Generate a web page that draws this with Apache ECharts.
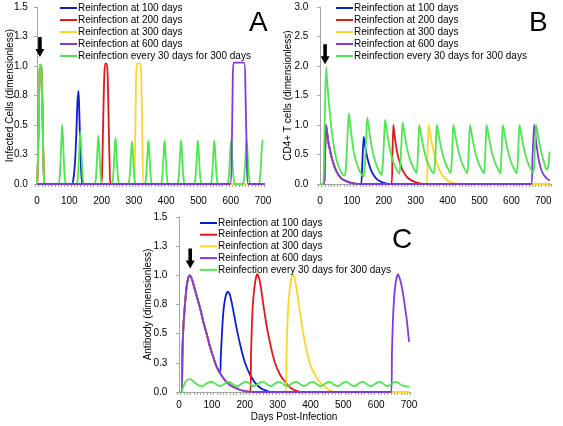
<!DOCTYPE html>
<html><head><meta charset="utf-8">
<script src="https://cdn.jsdelivr.net/npm/echarts@6/dist/echarts.min.js"></script>
<style>html,body{margin:0;padding:0;background:#fff}#c{width:563px;height:426px}</style>
</head><body><div id="c"></div>
<script>
// ---- names / colours ----
const seriesNames = ['Reinfection at 100 days','Reinfection at 200 days','Reinfection at 300 days','Reinfection at 600 days','Reinfection every 30 days for 300 days'];
const xLabelValues = [0,100,200,300,400,500,600,700];
const panelLetters = ['A','B','C'];
const yTitles = ['Infected Cells (dimensionless)','CD4+ T cells (dimensionless)','Antibody (dimensionless)'];
const xTitleC = 'Days Post-Infection';

// ---- Panel A: infected cells ----
const aBlue = [[0,0],[2,0.1],[5,0.55],[8,0.95],[10,1.01],[13,1.0],[16,0.75],[19,0.3],[22,0.02],[24,0],[108,0],[113,0.05],[118,0.2],[122,0.45],[125,0.68],[128,0.79],[130,0.7],[133,0.4],[136,0.15],[139,0.03],[142,0],[705,0]];
const aRed = [[0,0],[2,0.1],[5,0.55],[8,0.95],[10,1.01],[13,1.0],[16,0.75],[19,0.3],[22,0.02],[24,0],[198,0],[202,0.15],[205,0.55],[208,0.9],[211,1.02],[216,1.02],[219,0.9],[222,0.5],[225,0.15],[228,0],[705,0]];
const aYellow = [[0,0],[2,0.1],[5,0.55],[8,0.95],[10,1.01],[13,1.0],[16,0.75],[19,0.3],[22,0.02],[24,0],[300,0],[303,0.2],[306,0.75],[309,1.02],[320,1.02],[324,0.75],[327,0.25],[331,0],[705,0]];
const aPurple = [[0,0],[598,0],[603,0.3],[606,0.85],[609,1.028],[641,1.028],[645,0.85],[649,0.3],[654,0],[705,0]];
const aGreen = [[0,0],[2,0.1],[5,0.55],[8,0.95],[10,1.01],[13,1.0],[16,0.75],[19,0.3],[22,0.02],[24,0],
 [66,0],[70,0.05],[73,0.2],[76,0.42],[78,0.5],[80,0.42],[83,0.2],[86,0.05],[90,0],
 [122,0],[126,0.04],[129,0.18],[132,0.37],[134,0.44],[136,0.37],[139,0.18],[142,0.04],[146,0],
 [178,0],[182,0.04],[185,0.17],[188,0.34],[190,0.41],[192,0.34],[195,0.17],[198,0.04],[202,0],
 [231,0],[235,0.04],[238,0.16],[241,0.33],[243,0.39],[245,0.33],[248,0.16],[251,0.04],[255,0],
 [282,0],[286,0.04],[289,0.15],[292,0.3],[294,0.36],[296,0.3],[299,0.15],[302,0.04],[306,0],
 [333,0],[337,0.04],[340,0.15],[343,0.31],[345,0.37],[347,0.31],[350,0.15],[353,0.04],[357,0],
 [383,0],[387,0.04],[390,0.15],[393,0.31],[395,0.37],[397,0.31],[400,0.15],[403,0.04],[407,0],
 [434,0],[438,0.04],[441,0.15],[444,0.31],[446,0.37],[448,0.31],[451,0.15],[454,0.04],[458,0],
 [486,0],[490,0.04],[493,0.15],[496,0.31],[498,0.37],[500,0.31],[503,0.15],[506,0.04],[510,0],
 [537,0],[541,0.04],[544,0.15],[547,0.31],[549,0.37],[551,0.31],[554,0.15],[557,0.04],[561,0],
 [589,0],[593,0.04],[596,0.15],[599,0.31],[601,0.37],[603,0.31],[606,0.15],[609,0.04],[613,0],
 [637,0],[641,0.04],[644,0.15],[647,0.31],[649,0.37],[651,0.31],[654,0.15],[657,0.04],[661,0],
 [686,0],[690,0.04],[693,0.15],[696,0.31],[698,0.37],[700,0.36]];

// ---- Panel B: CD4+ T cells ----
const bBlue = [[0,0],[13,0],[16,0.55],[19,1.0],[22,0.88],[26,0.72],[31,0.58],[36,0.46],[42,0.35],[47,0.27],[52,0.21],[57,0.16],[63,0.12],[70,0.08],[78,0.06],[90,0.03],[105,0.01],[120,0],
 [129,0],[133,0.4],[137,0.8],[140,0.7],[144,0.56],[148,0.45],[152,0.37],[157,0.28],[162,0.21],[167,0.16],[175,0.1],[188,0.045],[200,0.02],[215,0],[720,0]];
const bRed = [[0,0],[13,0],[16,0.55],[19,1.0],[22,0.88],[26,0.72],[31,0.58],[36,0.46],[42,0.35],[47,0.27],[52,0.21],[57,0.16],[63,0.12],[70,0.08],[78,0.06],[90,0.03],[105,0.01],[120,0],
 [224,0],[227,0.5],[230,1.0],[233,0.86],[237,0.7],[241,0.56],[246,0.44],[251,0.35],[256,0.27],[261,0.21],[267,0.16],[274,0.11],[284,0.07],[295,0.04],[310,0.015],[325,0],[720,0]];
const bYellow = [[0,0],[13,0],[16,0.55],[19,1.0],[22,0.88],[26,0.72],[31,0.58],[36,0.46],[42,0.35],[47,0.27],[52,0.21],[57,0.16],[63,0.12],[70,0.08],[78,0.06],[90,0.03],[105,0.01],[120,0],
 [334,0],[337,0.5],[340,1.0],[343,0.93],[347,0.8],[351,0.68],[355,0.58],[360,0.47],[366,0.36],[371,0.28],[377,0.21],[385,0.14],[395,0.08],[405,0.04],[420,0.015],[440,0],[720,0]];
const bPurple = [[0,0],[13,0],[16,0.55],[19,1.0],[22,0.88],[26,0.72],[31,0.58],[36,0.46],[42,0.35],[47,0.27],[52,0.21],[57,0.16],[63,0.12],[70,0.08],[78,0.06],[90,0.03],[105,0.01],[120,0],
 [663,0],[666,0.45],[670,0.9],[672,1.0],[675,0.85],[679,0.65],[684,0.46],[689,0.33],[695,0.22],[702,0.15],[710,0.1],[716,0.075],[720,0.06]];
const bGreen = [[0,0],[10,0],[13,0.6],[16,1.4],[19,1.98],[22,1.78],[26,1.48],[31,1.2],[36,0.93],[42,0.69],[47,0.53],[52,0.41],[57,0.31],[63,0.24],[70,0.17],[77,0.14],[80,0.2],
 [84,0.55],[87,0.9],[90,1.2],[93,1.1],[97,0.9],[104,0.6],[110,0.44],[115,0.35],[120,0.27],[125,0.21],[131,0.16],[137,0.13],
 [141,0.35],[145,0.8],[148,1.13],[151,1.04],[155,0.88],[161,0.66],[167,0.5],[174,0.37],[181,0.27],[188,0.19],[193,0.15],
 [197,0.35],[201,0.78],[204,1.09],[207,1.0],[211,0.85],[217,0.65],[223,0.5],[230,0.37],[237,0.28],[244,0.21],[249,0.17],
 [252,0.35],[256,0.78],[259,1.04],[262,0.96],[266,0.82],[272,0.63],[278,0.49],[285,0.37],[292,0.28],[299,0.21],[303,0.18],
 [306,0.4],[309,0.8],[311,1.0],[314,0.93],[318,0.8],[324,0.63],[330,0.49],[337,0.37],[344,0.28],[351,0.21],[357,0.18],
 [361,0.4],[364,0.8],[366,1.0],[369,0.93],[373,0.8],[379,0.63],[385,0.49],[392,0.37],[399,0.28],[406,0.21],[410,0.18],
 [413,0.4],[416,0.8],[418,1.0],[421,0.93],[425,0.8],[431,0.63],[437,0.49],[444,0.37],[451,0.28],[458,0.21],[462,0.18],
 [465,0.4],[468,0.8],[470,1.0],[473,0.93],[477,0.8],[483,0.63],[489,0.49],[496,0.37],[503,0.28],[510,0.21],[514,0.18],
 [517,0.4],[520,0.8],[522,1.0],[525,0.93],[529,0.8],[535,0.63],[541,0.49],[548,0.37],[555,0.28],[562,0.21],[565,0.18],
 [568,0.4],[571,0.8],[573,1.0],[576,0.93],[580,0.8],[586,0.63],[592,0.49],[599,0.37],[606,0.28],[613,0.21],[617,0.18],
 [620,0.4],[623,0.8],[625,1.0],[628,0.93],[632,0.8],[638,0.63],[644,0.49],[651,0.37],[658,0.28],[665,0.21],[669,0.18],
 [672,0.4],[675,0.8],[677,1.0],[680,0.93],[684,0.8],[690,0.63],[696,0.49],[703,0.35],[708,0.26],[712,0.24],[716,0.33],[720,0.55]];

// ---- Panel C: antibody ----
const cBlue = [[0,0],[8,0],[10,0.3],[13,0.55],[18,0.75],[23,0.9],[28,0.98],[33,1.0],[40,0.96],[48,0.88],[56,0.8],[64,0.72],[74,0.6],[84,0.5],[94,0.39],[104,0.3],[114,0.22],[125,0.16],
 [127,0.3],[131,0.52],[135,0.69],[141,0.81],[148,0.86],[154,0.84],[160,0.77],[167,0.67],[177,0.52],[190,0.36],[202,0.24],[216,0.15],[231,0.08],[250,0.03],[280,0],[700,0]];
const cRed = [[0,0],[8,0],[10,0.3],[13,0.55],[18,0.75],[23,0.9],[28,0.98],[33,1.0],[40,0.96],[48,0.88],[56,0.8],[64,0.72],[74,0.6],[84,0.5],[94,0.39],[104,0.3],[114,0.22],[125,0.16],[140,0.1],[155,0.06],[175,0.03],[196,0.01],[217,0],
 [219,0.3],[222,0.6],[226,0.8],[232,0.95],[238,1.01],[244,0.97],[250,0.88],[257,0.74],[267,0.56],[280,0.38],[292,0.25],[307,0.15],[322,0.09],[342,0.03],[370,0],[700,0]];
const cYellow = [[0,0],[8,0],[10,0.3],[13,0.55],[18,0.75],[23,0.9],[28,0.98],[33,1.0],[40,0.96],[48,0.88],[56,0.8],[64,0.72],[74,0.6],[84,0.5],[94,0.39],[104,0.3],[114,0.22],[125,0.16],[140,0.1],[155,0.06],[175,0.03],[196,0.01],[230,0],
 [325,0],[327,0.3],[330,0.6],[334,0.8],[340,0.95],[346,1.01],[352,0.97],[358,0.88],[365,0.74],[375,0.55],[388,0.36],[400,0.23],[415,0.14],[430,0.08],[450,0.03],[475,0],[700,0]];
const cPurple = [[0,0],[8,0],[10,0.3],[13,0.55],[18,0.75],[23,0.9],[28,0.98],[33,1.0],[40,0.96],[48,0.88],[56,0.8],[64,0.72],[74,0.6],[84,0.5],[94,0.39],[104,0.3],[114,0.22],[125,0.16],[140,0.1],[155,0.06],[175,0.03],[196,0.01],[230,0],
 [646,0],[648,0.35],[651,0.62],[655,0.82],[660,0.95],[666,1.01],[672,0.97],[678,0.9],[683,0.82],[688,0.72],[693,0.62],[700,0.43]];
const cGreen = [[0,0],[6,0],[10,0.02],[15,0.06],[20,0.09],[26,0.105],[33,0.11],[40,0.1],[48,0.08],[56,0.063],[63,0.052],[69,0.048],
 [75,0.055],[82,0.07],[90,0.083],[99,0.088],[106,0.08],[113,0.066],[119,0.055],[125,0.05],
 [131,0.055],[138,0.07],[144,0.082],[150,0.087],[157,0.08],[164,0.066],[170,0.055],[176,0.05],
 [183,0.055],[190,0.07],[197,0.082],[204,0.087],[211,0.08],[217,0.066],[223,0.055],[228,0.05],
 [234,0.055],[241,0.07],[248,0.082],[255,0.087],[262,0.08],[268,0.066],[273,0.055],[278,0.05],
 [284,0.055],[291,0.07],[298,0.082],[305,0.087],[312,0.08],[318,0.066],[324,0.055],[330,0.05],
 [335,0.055],[342,0.07],[349,0.082],[356,0.087],[363,0.08],[369,0.066],[375,0.055],[381,0.05],
 [386,0.055],[393,0.07],[400,0.082],[407,0.087],[414,0.08],[420,0.066],[426,0.055],[432,0.05],
 [437,0.055],[444,0.07],[451,0.082],[457,0.087],[464,0.08],[470,0.066],[477,0.055],[483,0.05],
 [488,0.055],[495,0.07],[502,0.082],[508,0.087],[515,0.08],[521,0.066],[528,0.055],[534,0.05],
 [539,0.055],[546,0.07],[553,0.082],[559,0.087],[566,0.08],[572,0.066],[579,0.055],[585,0.05],
 [590,0.055],[597,0.07],[604,0.082],[610,0.087],[617,0.08],[623,0.066],[629,0.055],[635,0.05],
 [640,0.055],[647,0.07],[654,0.082],[660,0.087],[667,0.08],[673,0.066],[680,0.055],[690,0.048],[700,0.045]];

// ---- arrows (annotation positions in data units) ----
const arrowA = [9, 1.16];
const arrowB = [16, 2.2];
const arrowC = [34, 1.145];

const colors = {blue:'#0a1ed2', red:'#e3161b', yellow:'#ffd42a', purple:'#7e3be0', green:'#4de84d'};
const FONT = 'Liberation Sans, Arial, sans-serif';
const axisGrey = '#a6a6a6';

function tickList(lo, hi){ const t=[]; for(let v=lo; v<=hi; v+=10) t.push(v); return t; }

const grids = [
  {left:35.4, top:7, width:229.3, height:177},
  {left:318.4, top:7, width:232.9, height:177},
  {left:177.4, top:217, width:233.3, height:175}
];
const xRanges = [[-5,705],[-5,725],[-5,705]];
const yMax = [1.5, 3.0, 1.5];
const yInt = [0.25, 0.5, 0.25];
const xMargins = [12, 12, 8.5];
const yMargins = [7.5, 10, 10];
const yNameGaps = [20, 25, 24];

const xAxes = grids.map((g,i)=>({
  type:'value', gridIndex:i, min:xRanges[i][0], max:xRanges[i][1],
  axisLine:{show:true, lineStyle:{color:axisGrey, width:1}},
  axisTick:{show:true, customValues:tickList(xRanges[i][0], xRanges[i][1]), length:3, lineStyle:{color:axisGrey}},
  axisLabel:{customValues:xLabelValues, interval:0, hideOverlap:false, color:'#000', fontSize:10, fontFamily:FONT, margin:xMargins[i]},
  splitLine:{show:false},
  name: i===2 ? xTitleC : '', nameLocation:'middle', nameGap:20, nameMoveOverlap:false,
  nameTextStyle:{color:'#000', fontSize:10, fontFamily:FONT}
}));
const yAxes = grids.map((g,i)=>({
  type:'value', gridIndex:i, min:0, max:yMax[i], interval:yInt[i],
  axisLine:{show:true, lineStyle:{color:axisGrey, width:1}},
  axisTick:{show:true, length:3, interval:0, lineStyle:{color:axisGrey}},
  axisLabel:{interval:0, hideOverlap:false, color:'#000', fontSize:10, fontFamily:FONT, margin:yMargins[i], formatter:v=>Number(v).toFixed(1)},
  splitLine:{show:false},
  name:yTitles[i], nameLocation:'middle', nameGap:yNameGaps[i], nameMoveOverlap:false,
  nameTextStyle:{color:'#000', fontSize:10, fontFamily:FONT}
}));

function mk(name, color, data, gi, extra){
  return Object.assign({
    type:'line', name, data, xAxisIndex:gi, yAxisIndex:gi,
    showSymbol:false, symbol:'none', smooth:0.2,
    lineStyle:{color, width:1.8}, itemStyle:{color},
    emphasis:{disabled:true}, animation:false, clip:true
  }, extra||{});
}
const arrowPath = 'path://M3,0 L7,0 L7,12 L10,12 L5,20 L0,12 L3,12 Z';
function arrowMark(coord){
  return {markPoint:{symbol:arrowPath, symbolSize:[9,20], silent:true, animation:false,
    itemStyle:{color:'#000'}, label:{show:false}, data:[{coord}]}};
}

const series = [
  mk(seriesNames[0], colors.blue, aBlue, 0),
  mk(seriesNames[1], colors.red, aRed, 0),
  mk(seriesNames[2], colors.yellow, aYellow, 0),
  mk(seriesNames[4], colors.green, aGreen, 0, arrowMark(arrowA)),
  mk(seriesNames[3], colors.purple, aPurple, 0),

  mk(seriesNames[0], colors.blue, bBlue, 1),
  mk(seriesNames[1], colors.red, bRed, 1),
  mk(seriesNames[2], colors.yellow, bYellow, 1),
  mk(seriesNames[3], colors.purple, bPurple, 1),
  mk(seriesNames[4], colors.green, bGreen, 1, arrowMark(arrowB)),

  mk(seriesNames[0], colors.blue, cBlue, 2),
  mk(seriesNames[1], colors.red, cRed, 2),
  mk(seriesNames[2], colors.yellow, cYellow, 2),
  mk(seriesNames[3], colors.purple, cPurple, 2),
  mk(seriesNames[4], colors.green, cGreen, 2, arrowMark(arrowC))
];

function legend(left, top, gap){
  return {data:seriesNames, orient:'vertical', left, top, itemGap:gap, itemWidth:17, itemHeight:2,
    icon:'rect', selectedMode:false, padding:0,
    textStyle:{color:'#000', fontSize:10, fontFamily:FONT, padding:[0,0,0,-4]}};
}

const chart = echarts.init(document.getElementById('c'), null, {renderer:'canvas'});
chart.setOption({
  animation:false,
  backgroundColor:'#fff',
  grid:grids.map(g=>Object.assign({containLabel:false}, g)),
  xAxis:xAxes, yAxis:yAxes,
  legend:[legend(60,3,2), legend(336,3,2), legend(200,218,1.7)],
  series,
  graphic:[
    {type:'text', left:249, top:9, style:{text:panelLetters[0], font:'28px '+FONT, fill:'#000'}},
    {type:'text', left:529, top:9, style:{text:panelLetters[1], font:'28px '+FONT, fill:'#000'}},
    {type:'text', left:392, top:226, style:{text:panelLetters[2], font:'28px '+FONT, fill:'#000'}}
  ]
});
</script></body></html>
